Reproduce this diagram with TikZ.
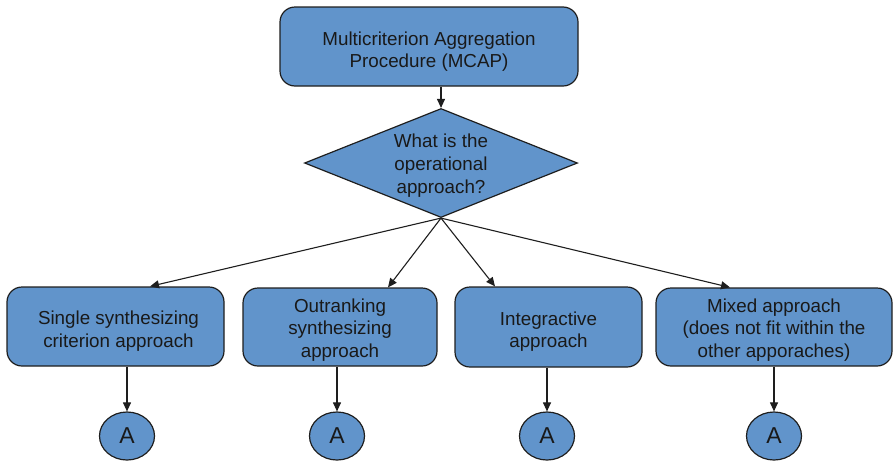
\documentclass[tikz,border=0pt]{standalone}
\usepackage{fontspec}
\setmainfont{Liberation Sans}
\usetikzlibrary{shapes.geometric,arrows.meta}
\definecolor{boxfill}{RGB}{97,148,203}
\definecolor{boxline}{RGB}{30,30,30}
\definecolor{txt}{RGB}{25,25,25}
\begin{document}
\begin{tikzpicture}[x=1pt,y=-1pt,
  every node/.style={font=\fontsize{18.8}{22.7}\selectfont, text=txt, align=center, inner sep=0pt},
  procbox/.style={draw=boxline, line width=1.2pt, fill=boxfill, rectangle, rounded corners=15pt},
  decision/.style={draw=boxline, line width=1.2pt, fill=boxfill, diamond, shape aspect=2.5,
    minimum width=273pt, minimum height=109pt},
  connector/.style={draw=boxline, line width=1.2pt, ellipse, fill=boxfill,
    minimum width=55pt, minimum height=48pt, font=\fontsize{23}{26}\selectfont},
  caption/.style={yshift=-#1},
  caption/.default=4.5pt,
  flow/.style={line width=1.1pt, draw=boxline, -{Triangle[length=9pt,width=8pt]}}]
\useasboundingbox (0,0) rectangle (893,461);

% main procedure and the decision
\node[procbox, minimum width=298pt, minimum height=79pt] (mcap) at (429,46.5) {};
\node[caption=5pt] (mcapt) at (mcap) {Multicriterion Aggregation\\Procedure (MCAP)};
\node[decision] (q) at (441,163) {};
\node[caption=2.5pt] (qt) at (q) {What is the\\operational\\approach?};

% the four operational approaches
\node[procbox, minimum width=217pt, minimum height=79pt] (b1) at (115.5,326.5) {};
\node[caption] (b1t) at ([xshift=3pt]b1) {Single synthesizing\\criterion approach};
\node[procbox, minimum width=194pt, minimum height=78pt] (b2) at (340,327) {};
\node[caption=3pt] (b2t) at (b2) {Outranking\\synthesizing\\approach};
\node[procbox, minimum width=187pt, minimum height=80pt] (b3) at (548.5,327) {};
\node[caption] (b3t) at (b3) {Integractive\\approach};
\node[procbox, minimum width=236pt, minimum height=78pt] (b4) at (774,327) {};
\node[caption=3pt] (b4t) at (b4) {Mixed approach\\(does not fit within the\\other apporaches)};

% off-page connectors
\node[connector] (a1) at (127,436) {A};
\node[connector] (a2) at (337,436) {A};
\node[connector] (a3) at (547,436) {A};
\node[connector] (a4) at (774,436) {A};

% arrows
\draw[flow] (q.north |- mcap.south) -- (q.north);
\draw[flow] (q.south) -- ([xshift=34.5pt]b1.north);
\draw[flow] (q.south) -- ([xshift=48pt]b2.north);
\draw[flow] (q.south) -- ([xshift=-53.5pt]b3.north);
\draw[flow] (q.south) -- ([xshift=-44pt]b4.north);
\draw[flow] (a1 |- b1.south) -- (a1);
\draw[flow] (a2 |- b2.south) -- (a2);
\draw[flow] (a3 |- b3.south) -- (a3);
\draw[flow] (a4 |- b4.south) -- (a4);
\end{tikzpicture}
\end{document}
